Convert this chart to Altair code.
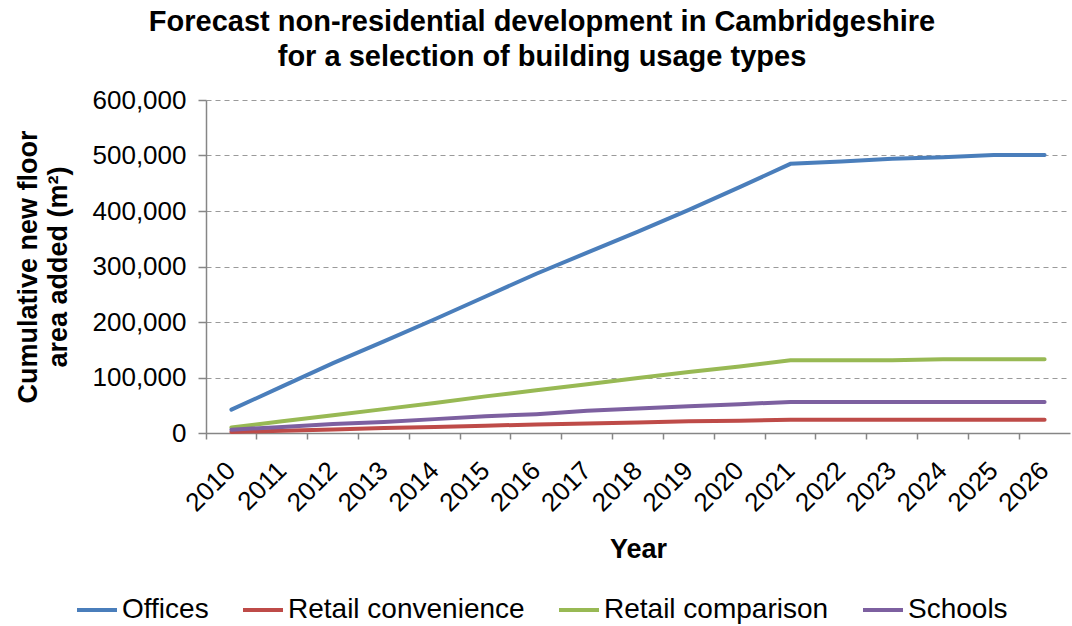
import altair as alt
import pandas as pd

years = [str(y) for y in range(2010, 2027)]
offices = [42000, 84000, 126000, 165000, 205000, 246000, 287000, 325000, 363000, 402000,
           443000, 485000, 489000, 494000, 497000, 501000, 501000]
retail_convenience = [2000, 4000, 6500, 9000, 11000, 13000, 15500, 17000, 19000, 21000,
                      22000, 24000, 24000, 24000, 24000, 24000, 24000]
retail_comparison = [10000, 21000, 32000, 43000, 54000, 66000, 77000, 88000, 99000, 110000,
                     120000, 131000, 131000, 131000, 133000, 133000, 133000]
schools = [6000, 11000, 16000, 20000, 25000, 30000, 34000, 40000, 44000, 48000,
           52000, 56000, 56000, 56000, 56000, 56000, 56000]

series_names = ["Offices", "Retail convenience", "Retail comparison", "Schools"]
series_values = [offices, retail_convenience, retail_comparison, schools]
colors = ["#4A7EBB", "#BE4B48", "#98B954", "#7D60A0"]

rows = []
for name, vals in zip(series_names, series_values):
    for yr, v in zip(years, vals):
        rows.append({"Year": yr, "Series": name, "Value": v})
df = pd.DataFrame(rows)

FONT = "Liberation Sans"

chart = alt.Chart(df).mark_line(strokeWidth=4, strokeCap="round").encode(
    x=alt.X("Year:O", sort=years, bandPosition=0.5,
            scale=alt.Scale(type="band", paddingInner=0, paddingOuter=0),
            axis=alt.Axis(title="Year", labelAngle=-45, labelAlign="right",
                          labelBaseline="middle", labelFontSize=26, labelPadding=27,
                          bandPosition=0,
                          titleFontSize=27, titleFontWeight="bold", titlePadding=20,
                          tickSize=6, grid=False)),
    y=alt.Y("Value:Q", scale=alt.Scale(domain=[0, 600000], nice=False),
            axis=alt.Axis(title=["Cumulative new floor", "area added (m²)"],
                          format=",.0f", values=[0, 100000, 200000, 300000, 400000, 500000, 600000],
                          labelFontSize=26, labelPadding=12, tickSize=8,
                          titleFontSize=27, titleFontWeight="bold", titlePadding=20,
                          titleLineHeight=30,
                          grid=True, gridDash=[5, 4], gridColor="#9A9A9A", gridWidth=1.2)),
    color=alt.Color("Series:N", sort=series_names,
                    scale=alt.Scale(domain=series_names, range=colors),
                    legend=alt.Legend(title=None, orient="none", direction="horizontal",
                                      legendX=-131, legendY=488,
                                      symbolType="stroke", symbolSize=1600, symbolStrokeWidth=4,
                                      labelFontSize=28, labelOffset=3, columnPadding=26,
                                      labelLimit=400, labelFont=FONT)),
).properties(
    width=864,
    height=333,
    title=alt.TitleParams(
        text=["Forecast non-residential development in Cambridgeshire",
              "for a selection of building usage types"],
        anchor="middle", frame="group", dx=-96, offset=15,
        fontSize=29, fontWeight="bold", font=FONT, lineHeight=35, color="black"),
    autosize=alt.AutoSizeParams(type="none"),
    padding={"left": 206, "top": 100, "right": 2, "bottom": 193},
).configure(
    font=FONT,
).configure_axis(
    labelFont=FONT, titleFont=FONT, labelColor="black", titleColor="black",
    domainColor="#868686", domainWidth=1.5, tickColor="#868686", tickWidth=1.5,
).configure_view(
    stroke=None,
)

chart.save("out.html", embed_options={"renderer": "svg", "actions": False})
